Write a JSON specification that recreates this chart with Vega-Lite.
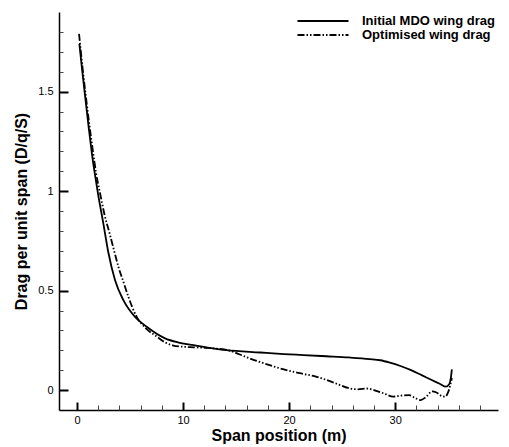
{
  "$schema": "https://vega.github.io/schema/vega-lite/v6.json",
  "width": 439,
  "height": 398,
  "autosize": {"type": "none"},
  "padding": {"left": 59, "top": 12, "right": 11, "bottom": 37},
  "background": "white",
  "view": {"stroke": null},
  "data": {"values": [
    {"s": "Initial MDO wing drag", "x": 0.22, "y": 1.74},
    {"s": "Initial MDO wing drag", "x": 0.5, "y": 1.60},
    {"s": "Initial MDO wing drag", "x": 0.8, "y": 1.46},
    {"s": "Initial MDO wing drag", "x": 1.1, "y": 1.32},
    {"s": "Initial MDO wing drag", "x": 1.4, "y": 1.19},
    {"s": "Initial MDO wing drag", "x": 1.7, "y": 1.08},
    {"s": "Initial MDO wing drag", "x": 2.0, "y": 0.98},
    {"s": "Initial MDO wing drag", "x": 2.48, "y": 0.838},
    {"s": "Initial MDO wing drag", "x": 2.96, "y": 0.69},
    {"s": "Initial MDO wing drag", "x": 3.58, "y": 0.553},
    {"s": "Initial MDO wing drag", "x": 4.37, "y": 0.452},
    {"s": "Initial MDO wing drag", "x": 5.47, "y": 0.368},
    {"s": "Initial MDO wing drag", "x": 6.57, "y": 0.318},
    {"s": "Initial MDO wing drag", "x": 8.3, "y": 0.26},
    {"s": "Initial MDO wing drag", "x": 9.5, "y": 0.24},
    {"s": "Initial MDO wing drag", "x": 11.0, "y": 0.226},
    {"s": "Initial MDO wing drag", "x": 12.5, "y": 0.212},
    {"s": "Initial MDO wing drag", "x": 14.1, "y": 0.201},
    {"s": "Initial MDO wing drag", "x": 17.3, "y": 0.189},
    {"s": "Initial MDO wing drag", "x": 19.5, "y": 0.181},
    {"s": "Initial MDO wing drag", "x": 21.35, "y": 0.176},
    {"s": "Initial MDO wing drag", "x": 23.5, "y": 0.170},
    {"s": "Initial MDO wing drag", "x": 25.6, "y": 0.164},
    {"s": "Initial MDO wing drag", "x": 27.6, "y": 0.156},
    {"s": "Initial MDO wing drag", "x": 28.6, "y": 0.150},
    {"s": "Initial MDO wing drag", "x": 29.5, "y": 0.138},
    {"s": "Initial MDO wing drag", "x": 30.5, "y": 0.121},
    {"s": "Initial MDO wing drag", "x": 31.5, "y": 0.100},
    {"s": "Initial MDO wing drag", "x": 32.5, "y": 0.075},
    {"s": "Initial MDO wing drag", "x": 33.4, "y": 0.052},
    {"s": "Initial MDO wing drag", "x": 34.2, "y": 0.032},
    {"s": "Initial MDO wing drag", "x": 34.8, "y": 0.017},
    {"s": "Initial MDO wing drag", "x": 35.1, "y": 0.030},
    {"s": "Initial MDO wing drag", "x": 35.25, "y": 0.06},
    {"s": "Initial MDO wing drag", "x": 35.35, "y": 0.104},
    {"s": "Optimised wing drag", "x": 0.19, "y": 1.79},
    {"s": "Optimised wing drag", "x": 0.5, "y": 1.63},
    {"s": "Optimised wing drag", "x": 0.8, "y": 1.49},
    {"s": "Optimised wing drag", "x": 1.1, "y": 1.36},
    {"s": "Optimised wing drag", "x": 1.5, "y": 1.20},
    {"s": "Optimised wing drag", "x": 1.8, "y": 1.09},
    {"s": "Optimised wing drag", "x": 2.17, "y": 0.99},
    {"s": "Optimised wing drag", "x": 2.6, "y": 0.88},
    {"s": "Optimised wing drag", "x": 3.11, "y": 0.78},
    {"s": "Optimised wing drag", "x": 3.5, "y": 0.70},
    {"s": "Optimised wing drag", "x": 3.9, "y": 0.62},
    {"s": "Optimised wing drag", "x": 4.4, "y": 0.54},
    {"s": "Optimised wing drag", "x": 4.84, "y": 0.469},
    {"s": "Optimised wing drag", "x": 5.63, "y": 0.368},
    {"s": "Optimised wing drag", "x": 6.5, "y": 0.31},
    {"s": "Optimised wing drag", "x": 7.5, "y": 0.27},
    {"s": "Optimised wing drag", "x": 8.3, "y": 0.24},
    {"s": "Optimised wing drag", "x": 9.08, "y": 0.224},
    {"s": "Optimised wing drag", "x": 10.0, "y": 0.218},
    {"s": "Optimised wing drag", "x": 11.0, "y": 0.215},
    {"s": "Optimised wing drag", "x": 12.2, "y": 0.212},
    {"s": "Optimised wing drag", "x": 13.2, "y": 0.208},
    {"s": "Optimised wing drag", "x": 14.4, "y": 0.198},
    {"s": "Optimised wing drag", "x": 15.3, "y": 0.18},
    {"s": "Optimised wing drag", "x": 16.3, "y": 0.159},
    {"s": "Optimised wing drag", "x": 18.0, "y": 0.128},
    {"s": "Optimised wing drag", "x": 19.5, "y": 0.104},
    {"s": "Optimised wing drag", "x": 21.0, "y": 0.085},
    {"s": "Optimised wing drag", "x": 22.6, "y": 0.067},
    {"s": "Optimised wing drag", "x": 24.2, "y": 0.038},
    {"s": "Optimised wing drag", "x": 25.75, "y": 0.008},
    {"s": "Optimised wing drag", "x": 26.5, "y": 0.004},
    {"s": "Optimised wing drag", "x": 27.3, "y": 0.008},
    {"s": "Optimised wing drag", "x": 28.3, "y": -0.005},
    {"s": "Optimised wing drag", "x": 29.1, "y": -0.02},
    {"s": "Optimised wing drag", "x": 29.8, "y": -0.033},
    {"s": "Optimised wing drag", "x": 30.5, "y": -0.028},
    {"s": "Optimised wing drag", "x": 31.3, "y": -0.025},
    {"s": "Optimised wing drag", "x": 31.9, "y": -0.04},
    {"s": "Optimised wing drag", "x": 32.4, "y": -0.05},
    {"s": "Optimised wing drag", "x": 32.9, "y": -0.035},
    {"s": "Optimised wing drag", "x": 33.5, "y": -0.006},
    {"s": "Optimised wing drag", "x": 33.9, "y": -0.012},
    {"s": "Optimised wing drag", "x": 34.4, "y": -0.03},
    {"s": "Optimised wing drag", "x": 34.7, "y": -0.033},
    {"s": "Optimised wing drag", "x": 35.0, "y": -0.01},
    {"s": "Optimised wing drag", "x": 35.2, "y": 0.025},
    {"s": "Optimised wing drag", "x": 35.35, "y": 0.06}
  ]},
  "resolve": {"axis": {"x": "independent", "y": "independent"}},
  "layer": [
    {
      "transform": [{"filter": "datum.s === 'Initial MDO wing drag'"}],
      "mark": {"type": "line", "strokeWidth": 1.8, "interpolate": "monotone"},
      "encoding": {
        "x": {
          "field": "x", "type": "quantitative",
          "scale": {"domain": [-1.7, 39.7], "nice": false},
          "axis": {"orient": "bottom", "grid": false, "title": "Span position (m)", "values": [0, 10, 20, 30], "ticks": false, "labelPadding": 4, "titlePadding": 2, "domainColor": "black", "domainWidth": 1.5, "labelColor": "black", "labelFont": "Liberation Sans", "labelFontSize": 11, "titleColor": "black", "titleFont": "Liberation Sans", "titleFontSize": 16, "titleFontWeight": "bold"}
        },
        "y": {
          "field": "y", "type": "quantitative",
          "scale": {"domain": [-0.1, 1.9], "nice": false},
          "axis": {"orient": "left", "gridOpacity": 0, "title": "Drag per unit span (D/q/S)", "values": [0, 0.5, 1, 1.5], "format": "~g", "ticks": false, "labelPadding": 6, "titlePadding": 8, "domainColor": "black", "domainWidth": 1.5, "labelColor": "black", "labelFont": "Liberation Sans", "labelFontSize": 11, "titleColor": "black", "titleFont": "Liberation Sans", "titleFontSize": 16, "titleFontWeight": "bold"}
        },
        "color": {
          "field": "s", "type": "nominal",
          "scale": {"domain": ["Initial MDO wing drag", "Optimised wing drag"], "range": ["black", "black"]},
          "legend": {
            "title": null,
            "orient": "none",
            "legendX": 239,
            "legendY": 2,
            "symbolType": "M-4.25,0H4.25",
            "symbolSize": 144,
            "symbolStrokeColor": "black",
            "symbolStrokeWidth": 2,
            "labelFont": "Liberation Sans",
            "labelFontSize": 13,
            "labelFontWeight": "bold",
            "labelColor": "black",
            "labelOffset": 32,
            "symbolOffset": 18,
            "rowPadding": -5,
            "encode": {
              "symbols": {
                "update": {
                  "strokeDash": {"signal": "datum.value === 'Optimised wing drag' ? [7, 2, 1.5, 2, 1.5, 2] : [1, 0]"}
                }
              }
            }
          }
        }
      }
    },
    {
      "transform": [{"filter": "datum.s === 'Optimised wing drag'"}],
      "mark": {"type": "line", "strokeWidth": 1.8, "interpolate": "monotone", "strokeDash": [7, 2, 1.5, 2, 1.5, 2]},
      "encoding": {
        "x": {
          "field": "x", "type": "quantitative",
          "axis": {"orient": "bottom", "grid": false, "title": null, "labels": false, "domain": false, "values": [0, 10, 20, 30], "tickColor": "black", "tickSize": 8, "tickWidth": 2, "offset": -8}
        },
        "y": {
          "field": "y", "type": "quantitative",
          "axis": {"orient": "left", "gridOpacity": 0, "title": null, "labels": false, "domain": false, "values": [0, 0.5, 1, 1.5], "tickColor": "black", "tickSize": 9, "tickWidth": 2, "offset": -9}
        },
        "color": {"field": "s", "type": "nominal"}
      }
    },
    {
      "transform": [{"filter": "datum.s === 'Optimised wing drag'"}],
      "mark": {"type": "point", "opacity": 0},
      "encoding": {
        "x": {
          "field": "x", "type": "quantitative",
          "axis": {"orient": "bottom", "grid": false, "title": null, "labels": false, "domain": false, "values": [2, 4, 6, 8, 12, 14, 16, 18, 22, 24, 26, 28, 32, 34, 36, 38], "tickSize": 5, "tickWidth": 1, "tickColor": "#444444", "offset": -5}
        },
        "y": {
          "field": "y", "type": "quantitative",
          "axis": {"orient": "left", "gridOpacity": 0, "title": null, "labels": false, "domain": false, "values": [0.1, 0.2, 0.3, 0.4, 0.6, 0.7, 0.8, 0.9, 1.1, 1.2, 1.3, 1.4, 1.6, 1.7, 1.8], "tickSize": 4, "tickWidth": 1, "tickColor": "#444444", "offset": -4}
        }
      }
    }
  ]
}
